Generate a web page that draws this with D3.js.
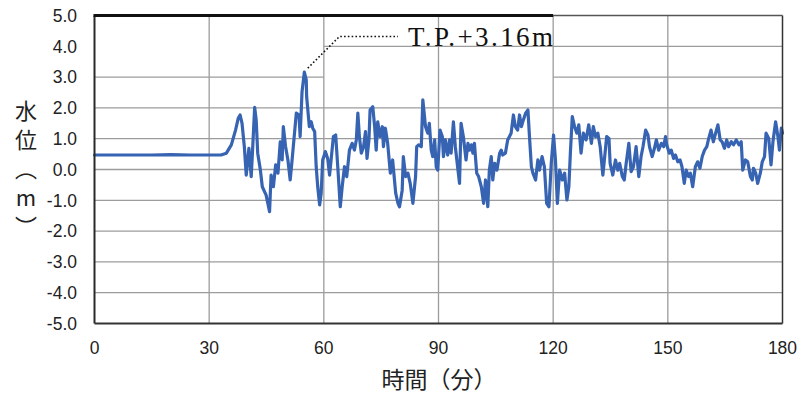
<!DOCTYPE html>
<html><head><meta charset="utf-8">
<script src="https://cdn.jsdelivr.net/npm/d3@7"></script>
<style>html,body{margin:0;padding:0;background:#fff;}</style>
</head><body>
<svg id="chart" width="802" height="396"></svg>
<script>
// time (minutes) and water level (m)
const samples = [
[0,0.47],[5,0.47],[10,0.47],[15,0.47],[20,0.48],[25,0.47],[30,0.47],[33.1,0.47],[34.5,0.53],[35.8,0.80],[36.9,1.28],[37.6,1.66],[38.1,1.77],[38.6,1.50],[39.2,0.74],[39.7,-0.18],[40.4,0.69],[41.0,-0.23],[41.4,0.74],[41.9,2.02],[42.3,1.61],[42.7,0.53],[43.4,-0.02],[43.9,-0.56],[44.9,-0.83],[45.8,-1.37],
[46.2,-0.18],[46.8,-0.56],[47.4,0.15],[48.0,-0.12],[48.6,0.90],[49.1,0.31],[49.4,1.39],[50.0,0.74],[50.6,0.31],[51.2,-0.34],[51.7,0.31],[52.8,1.83],[53.5,1.77],[53.8,1.07],[54.3,2.53],[54.9,3.16],[55.4,2.91],[55.5,2.37],[56.2,1.39],[56.7,1.55],[57.1,1.34],[57.6,1.23],[58.0,0.09],[58.4,-0.56],[58.9,-1.15],[59.3,-0.77],[59.7,0.31],
[60.4,0.58],[61.0,0.36],[61.5,-0.18],[61.9,0.31],[62.5,1.07],[63.1,1.12],[63.7,-0.02],[64.3,-1.21],[64.8,-0.56],[65.4,0.09],[66.0,-0.23],[66.7,0.63],[67.4,0.85],[68.0,0.63],[68.5,0.96],[68.9,1.83],[69.3,1.07],[69.8,0.53],[70.4,0.74],[70.9,1.23],[71.3,0.36],[71.8,0.96],[72.1,1.93],[72.8,2.04],[73.3,1.39],[73.7,0.63],[74.1,1.55],[74.7,1.07],[75.3,1.39],[75.6,0.74],[76.1,1.34],[76.7,0.85],[77.4,-0.12],[78.0,0.31],[78.8,-0.77],[79.4,-1.10],[79.8,-1.21],
[80.5,-0.67],[80.8,0.42],[81.4,-0.23],[82.0,-0.12],[82.6,-0.45],[83.3,-1.10],[84.0,-0.23],[84.3,0.74],[84.8,0.80],[85.5,0.74],[85.9,2.26],[86.6,1.39],[87.2,1.18],[87.6,1.50],[88.1,0.63],[88.5,0.42],[89.0,0.96],[89.4,0.09],[89.8,-0.02],[90.4,1.28],[91.0,1.07],[91.3,0.42],[91.8,0.96],[92.4,0.47],[92.9,0.96],[93.3,0.53],[93.9,1.55],[94.4,0.74],[95.0,0.09],[95.5,-0.45],[95.9,1.50],[96.5,1.07],[97.2,0.31],[97.7,0.85],[98.1,0.63],[98.6,0.80],[99.0,0.53],[99.4,0.85],
[100.0,-0.12],[100.5,-0.23],[101.2,-0.56],[101.8,-1.10],[102.3,-0.34],[102.9,-1.21],[103.3,-0.02],[103.8,0.42],[104.2,-0.34],[104.7,0.20],[105.3,-0.02],[106.0,0.53],[106.4,0.63],[106.8,0.47],[107.5,0.53],[108.1,0.96],[109.0,1.18],[109.6,1.77],[110.1,1.39],[110.7,1.28],[111.2,1.77],[111.7,1.39],[112.2,1.61],[112.8,1.83],[113.4,1.93],[113.8,1.07],[114.3,0.09],[114.7,-0.12],[115.4,-0.34],[116.0,0.31],[116.4,-0.02],[117.1,0.42],[117.7,0.09],[118.3,-1.10],[118.9,-1.21],[119.5,0.20],
[120.1,1.12],[120.6,0.31],[121.1,-1.10],[121.7,-0.02],[122.4,-0.34],[123.0,-0.12],[123.6,-0.99],[124.1,-0.56],[124.5,0.53],[125.0,1.72],[125.6,1.39],[126.2,1.18],[126.7,1.45],[127.3,0.53],[127.9,1.18],[128.6,0.96],[129.3,1.45],[130.0,0.85],[130.5,1.39],[131.1,1.07],[131.7,1.18],[132.3,0.74],[133.0,-0.18],[133.4,0.31],[134.0,1.07],[134.6,1.01],[134.9,0.20],[135.6,-0.18],[136.3,0.31],[136.9,-0.02],[137.4,0.20],[138.1,-0.23],[138.6,-0.34],[139.1,0.20],[139.8,0.85],
[140.4,-0.07],[141.0,0.09],[141.7,0.74],[142.4,-0.23],[143.0,0.42],[143.5,0.74],[144.2,1.28],[144.8,1.12],[145.2,0.74],[145.9,0.42],[146.5,0.69],[147.0,0.96],[147.6,0.63],[148.3,0.85],[148.9,0.74],[149.4,1.07],[149.7,0.80],[150.4,0.53],[150.9,0.63],[151.5,0.36],[152.0,0.47],[152.6,0.25],[153.2,0.31],[153.7,0.09],[154.3,-0.45],[154.8,-0.02],[155.4,-0.23],[155.9,-0.12],[156.5,-0.56],[157.2,0.09],[157.8,0.25],[158.4,0.04],[159.0,0.42],[159.6,0.63],
[160.2,0.74],[160.7,1.01],[161.3,1.28],[161.9,0.90],[162.5,1.18],[163.1,1.45],[163.7,0.96],[164.2,0.90],[164.8,0.69],[165.4,0.96],[165.9,0.74],[166.6,0.90],[167.2,0.80],[167.9,0.96],[168.6,0.80],[169.2,0.90],[169.6,-0.02],[170.3,0.31],[170.9,0.25],[171.6,-0.23],[172.1,-0.34],[172.4,0.04],[173.0,-0.12],[173.5,-0.45],[174.2,-0.12],[174.7,0.25],[175.3,0.42],[175.7,1.18],[176.4,1.01],[177.0,0.15],[177.5,0.90],[178.2,1.55],[178.8,1.07],[179.2,0.63],[179.7,1.34],[180.0,1.18]
];
const xTicks = [0,30,60,90,120,150,180];
const yTicks = [5,4,3,2,1,0,-1,-2,-3,-4,-5];
const peakLabel = "T.P.+3.16m";
const peakPoint = [54.9, 3.16];
const xTitle = "時間（分）";
const yTitle = "水位（m）";

const svg = d3.select("#chart");
svg.append("rect").attr("width",802).attr("height",396).attr("fill","#fff");

const x = d3.scaleLinear().domain([0,180]).range([94.5,782.5]);
const y = d3.scaleLinear().domain([-5,5]).range([323.5,15.5]);

const grid = svg.append("g").attr("stroke","#9c9c9c").attr("stroke-width",1.3);
xTicks.filter(t=>t>0 && t<180).forEach(t=>{
  grid.append("line").attr("x1",x(t)).attr("x2",x(t)).attr("y1",y(5)).attr("y2",y(-5));
});
// horizontal gridlines (partly hidden behind annotation box in original)
const hSeg = {4:[[60,180]],3:[[0,60],[120,180]]};
yTicks.filter(v=>v>-5 && v<5).forEach(v=>{
  (hSeg[v]||[[0,180]]).forEach(([a,b])=>{
    grid.append("line").attr("x1",x(a)).attr("x2",x(b)).attr("y1",y(v)).attr("y2",y(v));
  });
});

// series
const line = d3.line().x(d=>x(d[0])).y(d=>y(d[1]));
svg.append("path").datum(samples).attr("d",line)
  .attr("fill","none").attr("stroke","#3763b3").attr("stroke-width",3.2)
  .attr("stroke-linejoin","round").attr("stroke-linecap","round");

// frame
const fr = svg.append("g").attr("fill","none");
fr.append("line").attr("x1",x(0)).attr("x2",x(0)).attr("y1",y(5)).attr("y2",y(-5)).attr("stroke","#2a2a2a").attr("stroke-width",2);
fr.append("line").attr("x1",x(0)).attr("x2",x(180)).attr("y1",y(-5)).attr("y2",y(-5)).attr("stroke","#333").attr("stroke-width",2);
fr.append("line").attr("x1",x(180)).attr("x2",x(180)).attr("y1",y(5)).attr("y2",y(-5)).attr("stroke","#333").attr("stroke-width",1.5);
fr.append("line").attr("x1",x(120)).attr("x2",x(180)).attr("y1",y(5)).attr("y2",y(5)).attr("stroke","#555").attr("stroke-width",1.5);
fr.append("line").attr("x1",x(0)-1).attr("x2",x(120)).attr("y1",y(5)).attr("y2",y(5)).attr("stroke","#111").attr("stroke-width",3);

// tick labels
const tickFont = "'Liberation Sans', Arial, sans-serif";
svg.append("g").selectAll("text").data(yTicks).join("text")
  .attr("x",77).attr("y",d=>y(d)).attr("dy","0.36em")
  .attr("text-anchor","end").attr("font-family",tickFont).attr("font-size",17.5).attr("fill","#222")
  .text(d=>d.toFixed(1));
svg.append("g").selectAll("text").data(xTicks).join("text")
  .attr("x",d=>x(d)).attr("y",354).attr("text-anchor","middle")
  .attr("font-family",tickFont).attr("font-size",17.5).attr("fill","#222")
  .text(d=>d);

// axis titles
const cjk = "'Noto Sans CJK JP', 'Noto Sans CJK SC', sans-serif";
svg.append("text").attr("x",439).attr("y",388).attr("text-anchor","middle")
  .attr("font-family",cjk).attr("font-size",23).attr("fill","#222")
  .text(xTitle);
svg.append("text").attr("x",26).attr("y",100)
  .attr("font-family",cjk).attr("font-size",22).attr("fill","#222")
  .attr("letter-spacing",7)
  .style("writing-mode","vertical-rl").style("text-orientation","upright")
  .text(yTitle);

// annotation
const leader = [[peakPoint[0]+0.9, peakPoint[1]+0.13],[64.1,4.32],[79.4,4.32]];
svg.append("path").attr("d",d3.line().x(d=>x(d[0])).y(d=>y(d[1])) (leader))
  .attr("fill","none").attr("stroke","#111").attr("stroke-width",1.6).attr("stroke-dasharray","1.6,2.2");
svg.append("text").attr("x",x(82)).attr("y",y(4.0))
  .attr("font-family","'Liberation Serif','Times New Roman',serif").attr("font-size",27)
  .attr("fill","#111").attr("textLength",145).attr("lengthAdjust","spacing")
  .text(peakLabel);
</script>
</body></html>
